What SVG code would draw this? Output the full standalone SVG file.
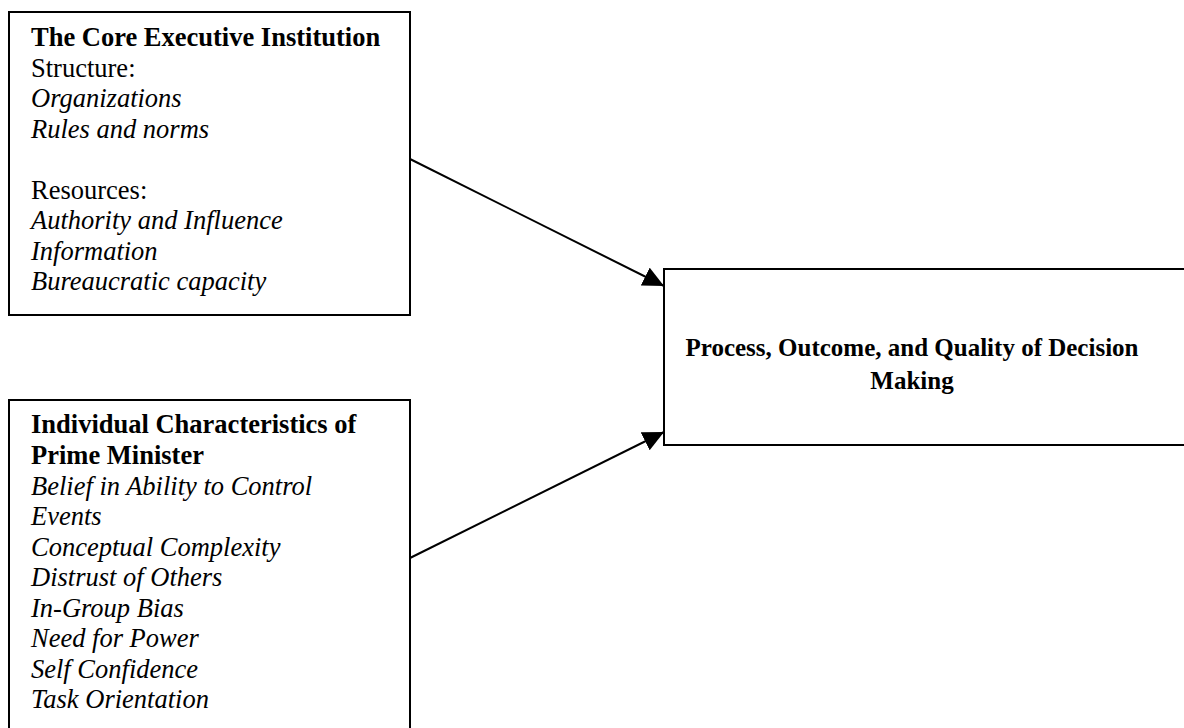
<svg xmlns="http://www.w3.org/2000/svg" width="1184" height="728" viewBox="0 0 1184 728">
<style>
.box{fill:#fff;stroke:#000;stroke-width:2}
.t{font-family:"Liberation Serif","Times New Roman",serif;font-size:26.5px;fill:#000}
.b{font-weight:bold}
.i{font-style:italic}
.c{font-family:"Liberation Serif","Times New Roman",serif;font-size:25px;font-weight:bold;fill:#000;text-anchor:middle}
.conn{stroke:#000;stroke-width:2;fill:none}
</style>
<defs>
<marker id="arr" markerUnits="userSpaceOnUse" markerWidth="22" markerHeight="20" refX="21" refY="10" orient="auto">
<polygon points="0,0 21,10 0,20" fill="#000"/>
</marker>
</defs>
<rect width="1184" height="728" fill="#fff"/>
<g id="core-executive">
<rect class="box" x="9" y="12" width="401" height="303"/>
<text class="t" x="31" y="46"><tspan class="b">The Core Executive Institution</tspan>
<tspan x="31" y="76.5">Structure:</tspan>
<tspan class="i" x="31" y="107">Organizations</tspan>
<tspan class="i" x="31" y="137.5">Rules and norms</tspan>
<tspan x="31" y="198.5">Resources:</tspan>
<tspan class="i" x="31" y="229">Authority and Influence</tspan>
<tspan class="i" x="31" y="259.5">Information</tspan>
<tspan class="i" x="31" y="290">Bureaucratic capacity</tspan></text>
</g>
<g id="individual-characteristics">
<rect class="box" x="9" y="400" width="401" height="340"/>
<text class="t" x="31" y="433"><tspan class="b">Individual Characteristics of</tspan>
<tspan class="b" x="31" y="463.5">Prime Minister</tspan>
<tspan class="i" x="31" y="494.5">Belief in Ability to Control</tspan>
<tspan class="i" x="31" y="525">Events</tspan>
<tspan class="i" x="31" y="555.5">Conceptual Complexity</tspan>
<tspan class="i" x="31" y="586">Distrust of Others</tspan>
<tspan class="i" x="31" y="616.5">In-Group Bias</tspan>
<tspan class="i" x="31" y="647">Need for Power</tspan>
<tspan class="i" x="31" y="677.5">Self Confidence</tspan>
<tspan class="i" x="31" y="708">Task Orientation</tspan></text>
</g>
<g id="decision-making">
<rect class="box" x="664" y="269" width="530" height="176"/>
<text class="c" x="912" y="356">Process, Outcome, and Quality of Decision</text>
<text class="c" x="912" y="389">Making</text>
</g>
<g id="connectors">
<line class="conn" x1="410" y1="159" x2="664" y2="286" marker-end="url(#arr)"/>
<line class="conn" x1="410" y1="558" x2="664" y2="432" marker-end="url(#arr)"/>
</g>
</svg>
